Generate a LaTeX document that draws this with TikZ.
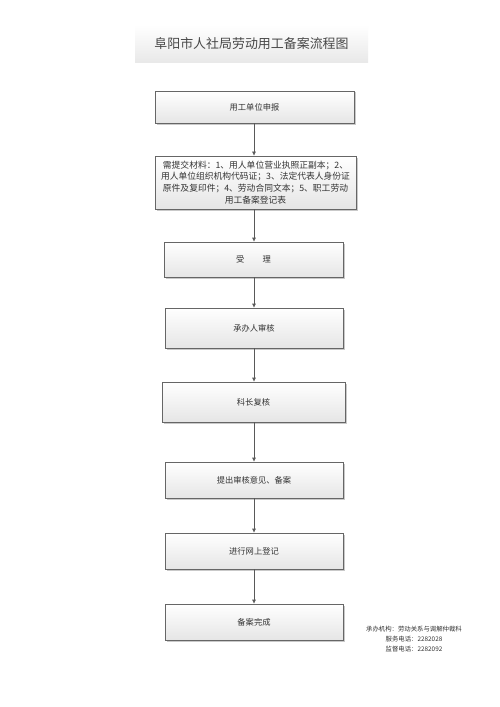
\documentclass[tikz,border=0pt]{standalone}
\usepackage{fontspec}
\setmainfont{Noto Sans CJK SC}
\usetikzlibrary{arrows.meta,shadows}
\tikzset{
  flowbox/.style={draw=black!60, line width=0.6bp, top color=white, bottom color=black!10,
    drop shadow={shadow xshift=1.5bp, shadow yshift=-1.5bp, fill=black!35, opacity=.6},
    font=\fontsize{8.3}{12}\selectfont, text=black!80, align=center, inner sep=2bp},
  flowarrow/.style={draw=black!65, line width=0.6bp, -{Latex[length=4bp,width=4bp]}},
}
\begin{document}
\begin{tikzpicture}[x=1bp,y=-1bp]
\useasboundingbox (0,0) rectangle (500,707);
\fill[white] (0,0) rectangle (500,707);
% title
\node[name=titlebox, minimum width=233bp, minimum height=38bp, top color=white, bottom color=black!9, inner sep=0pt,
  font=\fontsize{13}{15}\selectfont, text=black!72] at (251.5,44) {阜阳市人社局劳动用工备案流程图};
% boxes
\node[flowbox, minimum width=199bp, minimum height=32bp] (b1) at (254.5,107) {用工单位申报};
\node[flowbox, minimum width=201bp, minimum height=53bp, text width=197bp, font=\fontsize{8.8}{11.8}\selectfont] (b2) at (255.5,182.5)
  {需提交材料：1、用人单位营业执照正副本；2、\\用人单位组织机构代码证；3、法定代表人身份证\\原件及复印件；4、劳动合同文本；5、职工劳动\\用工备案登记表};
\node[flowbox, minimum width=179bp, minimum height=35bp] (b3) at (253.5,259.5) {受\hspace{2.2em}理};
\node[flowbox, minimum width=178bp, minimum height=40bp] (b4) at (254,328) {承办人审核};
\node[flowbox, minimum width=183bp, minimum height=40bp] (b5) at (253.5,402) {科长复核};
\node[flowbox, minimum width=178bp, minimum height=36bp] (b6) at (254,480) {提出审核意见、备案};
\node[flowbox, minimum width=178bp, minimum height=36bp] (b7) at (254,551) {进行网上登记};
\node[flowbox, minimum width=178bp, minimum height=36bp] (b8) at (254,622) {备案完成};
% arrows
\foreach \a/\b in {b1/b2,b2/b3,b3/b4,b4/b5,b5/b6,b6/b7,b7/b8}
  \draw[flowarrow] (\a.south -| 254,0) -- (\b.north -| 254,0);
% footer note
\node[font=\fontsize{6.4}{9.8}\selectfont, text=black!80, align=center, inner sep=0pt] (note) at (414,639)
  {承办机构：劳动关系与调解仲裁科\\服务电话：2282028\\监督电话：2282092};
\end{tikzpicture}
\end{document}
